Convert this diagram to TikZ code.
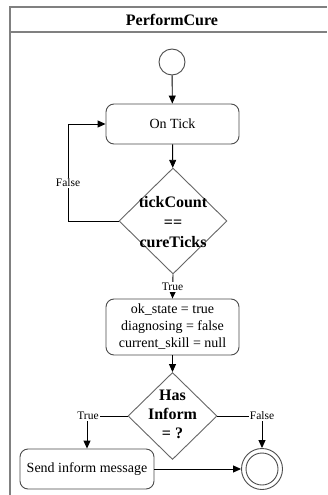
\documentclass[tikz,border=0pt]{standalone}
\usepackage{fontspec}
\setmainfont{Liberation Serif}
\usetikzlibrary{shapes.geometric,arrows.meta}
\begin{document}
\begin{tikzpicture}[x=1pt,y=-1pt,
  frame/.style={draw=black!50, line width=1.3pt},
  box/.style={draw=black!70, rounded corners=8pt, line width=0.9pt,
    minimum width=133pt, minimum height=40pt, inner sep=0pt,
    font=\fontsize{14}{17}\selectfont, align=center},
  decision/.style={diamond, draw=black!60, line width=0.9pt, inner sep=0pt},
  dtext/.style={font=\bfseries\fontsize{16}{20}\selectfont, align=center, inner sep=0pt},
  flow/.style={-{Triangle[length=8pt,width=7pt]}, line width=0.9pt},
  wire/.style={line width=0.9pt},
  branch/.style={font=\fontsize{11.5}{12}\selectfont, fill=white, inner sep=1pt},
  pseudo/.style={circle, draw=black!70, line width=0.9pt, inner sep=0pt}]

\useasboundingbox[fill=white] (0,0) rectangle (327,495);

% swimlane frame and title
\draw[frame] (10,495) -- (10,7) -- (327,7);
\draw[frame] (10,32) -- (327,32);
\node[font=\bfseries\fontsize{16}{19}\selectfont] (title) at (172,20) {PerformCure};

% nodes
\node[pseudo, minimum size=26pt] (start) at (172,62) {};
\node[box] (tick) at (172.5,124) {On Tick};
\node[decision, minimum width=108pt, minimum height=106pt] (d1) at (173,221) {};
\node[dtext, font=\bfseries\fontsize{16}{20}\selectfont] (d1t) at (173,222) {tickCount\\==\\cureTicks};
\node[box, minimum height=56pt] (reset) at (172.5,327)
  {ok\_state = true\\diagnosing = false\\current\_skill = null};
\node[decision, minimum width=89pt, minimum height=87pt] (d2) at (172.5,416) {};
\node[dtext, font=\bfseries\fontsize{16}{19}\selectfont] (d2t) at (172.5,414) {Has\\Inform\\= ?};
\node[box, minimum width=134pt] (send) at (87,469) {Send inform message};
\node[pseudo, minimum size=41pt] (final) at (262,469) {};
\node[pseudo, minimum size=32pt] (finalin) at (262,469) {};

% bend points
\coordinate (loop) at (68,221);
\coordinate (tbend) at (87,416);
\coordinate (fbend) at (262,416);

% connectors
\draw[flow] (start) -- (tick);
\draw[flow] (tick) -- (d1);
\draw[flow] (d1.west) -- (loop) |- (tick.west);
\node[branch] (lfalse) at (68,183) {False};
\draw[flow] (d1.south) -- (reset.north);
\node[branch] (ltrue) at (172.5,287) {True};
\draw[flow] (reset) -- (d2);
\draw[flow] (d2.west) -- (tbend) -- (send.north);
\node[branch] (ltrue2) at (88,416) {True};
\draw[flow] (d2.east) -- (fbend) -- (final.north);
\node[branch] (lfalse2) at (262,416) {False};
\draw[flow] (send.east) -- (final.west);
\end{tikzpicture}
\end{document}
